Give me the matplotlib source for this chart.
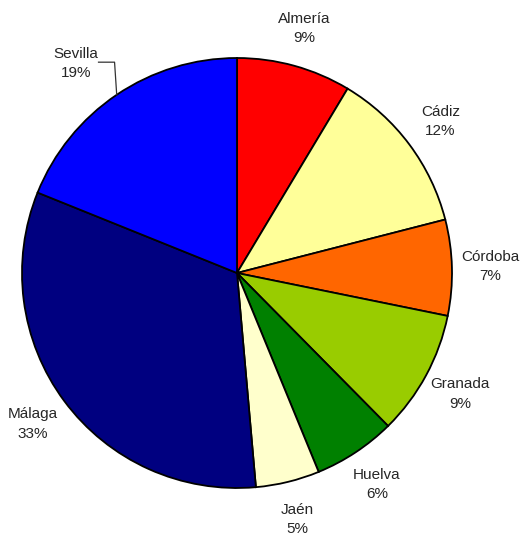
import numpy as np
import matplotlib
matplotlib.use("Agg")
import matplotlib.pyplot as plt

plt.rcParams['font.family'] = ['Liberation Sans', 'DejaVu Sans']

provinces = ['Almería', 'Cádiz', 'Córdoba', 'Granada', 'Huelva', 'Jaén', 'Málaga', 'Sevilla']
shares = [8.6, 12.4, 7.2, 9.4, 6.2, 4.8, 32.5, 18.9]
colors = ['#FF0000', '#FFFF99', '#FF6600', '#99CC00', '#008000', '#FFFFCC', '#000080', '#0000FF']

fig = plt.figure(figsize=(5.21, 5.36), dpi=100)
ax = fig.add_axes([0, 0, 1, 1])

wedges, _ = ax.pie(shares, colors=colors, startangle=90, counterclock=False,
                   radius=1, wedgeprops=dict(edgecolor='black', linewidth=1.3))

# label placement, Excel style: name over percentage, centred outside the slice
total = sum(shares)
for w, name, v in zip(wedges, provinces, shares):
    mid = (w.theta1 + w.theta2) / 2
    dist = 1.18
    ang = mid
    if name == 'Sevilla':
        dist, ang = 1.23, mid + 3.5
    x, y = dist * np.cos(np.deg2rad(ang)), dist * np.sin(np.deg2rad(ang))
    pct = int(v / total * 100 + 0.5)
    ax.text(x, y, f'{name}\n{pct}%', ha='center', va='center',
            fontsize=11, color='#262626', linespacing=1.5)
    if name == 'Sevilla':
        # leader line from label to the slice edge
        rx, ry = np.cos(np.deg2rad(mid)), np.sin(np.deg2rad(mid))
        ax.plot([x + 0.105, rx - 0.01, rx], [y + 0.005, y + 0.005, ry],
                color='#333333', lw=0.9)

ax.set_aspect('auto')
ax.set_xlim(-237 / 215, (521 - 237) / 215)
ax.set_ylim((273 - 536) / 215, 273 / 215)
ax.axis('off')

fig.savefig('out.png', dpi=100)
